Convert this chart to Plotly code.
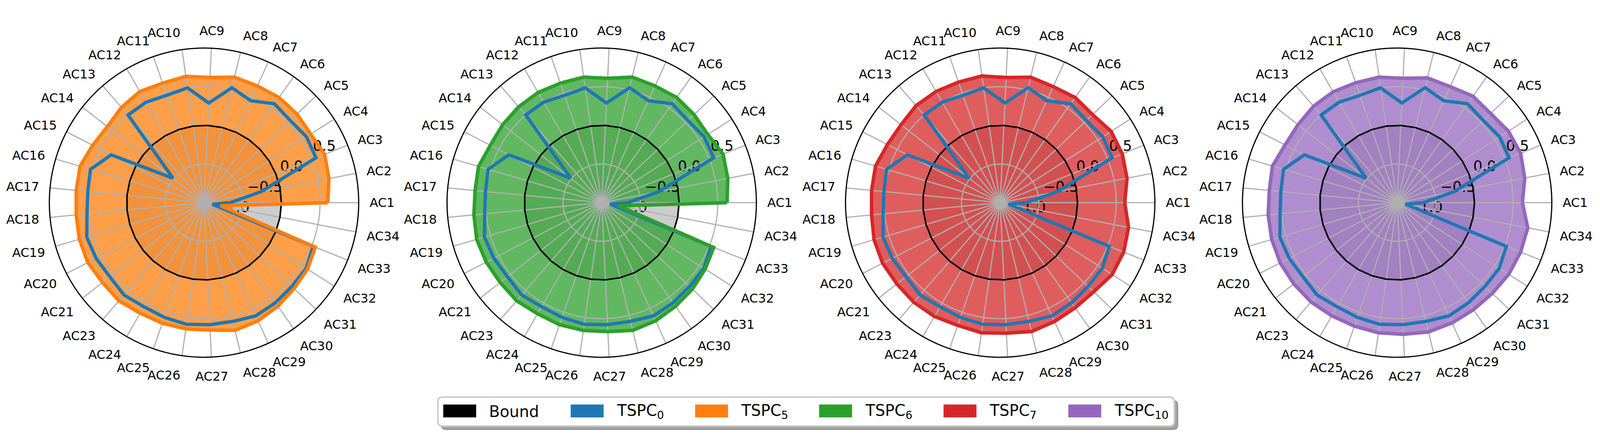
import plotly.graph_objects as go

# ---------------- data ----------------
categories = ['AC1', 'AC2', 'AC3', 'AC4', 'AC5', 'AC6', 'AC7', 'AC8', 'AC9', 'AC10',
              'AC11', 'AC12', 'AC13', 'AC14', 'AC15', 'AC16', 'AC17', 'AC18', 'AC19',
              'AC20', 'AC21', 'AC23', 'AC24', 'AC25', 'AC26', 'AC27', 'AC28', 'AC29',
              'AC30', 'AC31', 'AC32', 'AC33', 'AC34']

bound = [0.0, 0.0, 0.0, 0.0, 0.0, 0.0, 0.0, 0.0, 0.0, 0.0, 0.0, 0.0, 0.0, 0.0, 0.0, 0.0, 0.0,
         0.0, 0.0, 0.0, 0.0, 0.0, 0.0, 0.0, 0.0, 0.0, 0.0, 0.0, 0.0, 0.0, 0.0, 0.0, 0.0]

tspc0 = [-0.66, -0.25, 0.56, 0.575, 0.54, 0.57, 0.45, 0.53, 0.29, 0.50, 0.47, 0.50, 0.50,
         -0.49, 0.35, 0.53, 0.51, 0.52, 0.58, 0.57, 0.55,
         0.58, 0.555, 0.57, 0.59, 0.58, 0.58, 0.61, 0.59, 0.57, 0.57, 0.52, -0.89]

tspc5 = [0.60, 0.645, 0.68, 0.64, 0.66, 0.67, 0.66, 0.67, 0.62, 0.65, 0.635, 0.66, 0.63,
         0.59, 0.62, 0.67, 0.66, 0.66, 0.68, 0.69, 0.67,
         0.68, 0.65, 0.65, 0.65, 0.65, 0.70, 0.68, 0.645, 0.61, 0.59, 0.55, -0.78]

tspc6 = [0.62, 0.66, 0.69, 0.63, 0.65, 0.67, 0.66, 0.67, 0.61, 0.64, 0.635, 0.645, 0.64,
         0.63, 0.62, 0.66, 0.645, 0.66, 0.685, 0.68, 0.67,
         0.68, 0.66, 0.67, 0.67, 0.67, 0.70, 0.68, 0.645, 0.62, 0.59, 0.56, -0.78]

tspc7 = [0.61, 0.67, 0.70, 0.705, 0.65, 0.67, 0.65, 0.67, 0.62, 0.655, 0.65, 0.66, 0.66,
         0.63, 0.64, 0.68, 0.67, 0.67, 0.70, 0.71, 0.70,
         0.705, 0.70, 0.68, 0.70, 0.69, 0.715, 0.69, 0.67, 0.67, 0.72, 0.72, 0.69]

tspc10 = [0.62, 0.68, 0.72, 0.71, 0.67, 0.69, 0.65, 0.66, 0.61, 0.64, 0.64, 0.655, 0.65,
          0.63, 0.63, 0.68, 0.66, 0.675, 0.69, 0.70, 0.70,
          0.70, 0.69, 0.69, 0.70, 0.705, 0.72, 0.71, 0.70, 0.70, 0.715, 0.72, 0.72]

radial_tickvals = [-1.0, -0.5, 0.0, 0.5]
radial_ticktext = ['\u22121.0', '\u22120.5', '0.0', '0.5']

legend_labels = ['Bound', 'TSPC<sub>0</sub>', 'TSPC<sub>5</sub>', 'TSPC<sub>6</sub>',
                 'TSPC<sub>7</sub>', 'TSPC<sub>10</sub>']

# ---------------- geometry / style ----------------
# the page is shown in a viewport ~4096 css px wide with the default 8px body margin
VIEW_W, VIEW_H = 4096, 1132
REF_W = 4180
KX = VIEW_W / REF_W
MARG = 8
W, H = VIEW_W - 2 * MARG, VIEW_H - 2 * MARG

FONT = 'DejaVu Sans'
BLUE = '#1f77b4'
GRID = '#b0b0b0'
legend_colors = ['#000000', BLUE, '#ff7f0e', '#2ca02c', '#d62728', '#9467bd']
panels = [
    (tspc5, '#ff7f0e', 'rgba(255,127,14,0.75)', 'TSPC5'),
    (tspc6, '#2ca02c', 'rgba(44,160,44,0.75)', 'TSPC6'),
    (tspc7, '#d62728', 'rgba(214,39,40,0.75)', 'TSPC7'),
    (tspc10, '#9467bd', 'rgba(148,103,189,0.75)', 'TSPC10'),
]
centers_ref = [533, 1572, 2613, 3650]
cy_ref = 519
R_scr = 396
LABEL_SHIFT = 0.10   # radial offset of the radial tick labels (matplotlib left/bottom alignment)
LABEL_ANGLE = 32


def X(rx):
    return (rx * KX - MARG) / W


def Y(ry):
    return 1 - (ry - MARG) / H


def closed(v):
    return list(v) + [v[0]]


theta = closed(categories)
fig = go.Figure()
polars = {}
ang_common = dict(type='category', categoryarray=categories, rotation=0,
                  direction='counterclockwise')

for i, (vals, col, fcol, name) in enumerate(panels):
    a = 'polar' if i == 0 else 'polar%d' % (3 * i + 1)   # fills
    c = 'polar%d' % (3 * i + 2)                          # radial tick labels
    b = 'polar%d' % (3 * i + 3)                          # grid + lines
    fig.add_trace(go.Scatterpolar(r=closed(bound), theta=theta, mode='none', fill='toself',
                                  fillcolor='rgba(128,128,128,0.4)', subplot=a,
                                  showlegend=False, hoverinfo='skip'))
    fig.add_trace(go.Scatterpolar(r=closed(vals), theta=theta, mode='none', fill='toself',
                                  fillcolor=fcol, subplot=a, showlegend=False,
                                  hoverinfo='skip'))
    # an empty trace so the label subplot is populated
    fig.add_trace(go.Scatterpolar(r=[None], theta=[categories[0]], mode='lines', subplot=c,
                                  showlegend=False, hoverinfo='skip'))
    fig.add_trace(go.Scatterpolar(r=closed(bound), theta=theta, mode='lines',
                                  line=dict(color='#000000', width=4), subplot=b,
                                  showlegend=False, name='Bound'))
    fig.add_trace(go.Scatterpolar(r=closed(tspc0), theta=theta, mode='lines',
                                  line=dict(color=BLUE, width=8.5), subplot=b,
                                  showlegend=False, name='TSPC0'))
    fig.add_trace(go.Scatterpolar(r=closed(vals), theta=theta, mode='lines',
                                  line=dict(color=col, width=9), subplot=b,
                                  showlegend=False, name=name))

    cxs = centers_ref[i] * KX - MARG
    cys = cy_ref - MARG
    dom = dict(x=[(cxs - R_scr) / W, (cxs + R_scr) / W],
               y=[1 - (cys + R_scr) / H, 1 - (cys - R_scr) / H])
    polars[a] = dict(domain=dom, bgcolor='rgba(0,0,0,0)',
                     angularaxis=dict(visible=False, **ang_common),
                     radialaxis=dict(range=[-1, 1], visible=False))
    polars[c] = dict(domain=dom, bgcolor='rgba(0,0,0,0)',
                     angularaxis=dict(visible=True, showline=False, showgrid=False,
                                      showticklabels=False, ticks='', **ang_common),
                     radialaxis=dict(visible=True, range=[-1 - LABEL_SHIFT, 1 - LABEL_SHIFT],
                                     tickmode='array', tickvals=radial_tickvals,
                                     ticktext=radial_ticktext, showticklabels=True,
                                     angle=LABEL_ANGLE, tickangle=LABEL_ANGLE,
                                     side='clockwise', showline=False, showgrid=False,
                                     ticks='',
                                     tickfont=dict(family=FONT, size=37, color='black')))
    polars[b] = dict(
        domain=dom, bgcolor='rgba(0,0,0,0)',
        angularaxis=dict(showline=True, linecolor='black', linewidth=3, showgrid=True,
                         gridcolor=GRID, gridwidth=2.7, ticks='outside', ticklen=20,
                         tickcolor='rgba(0,0,0,0)',
                         tickfont=dict(family=FONT, size=32, color='black'),
                         layer='below traces', **ang_common),
        radialaxis=dict(range=[-1, 1], tickvals=radial_tickvals, showticklabels=False,
                        angle=LABEL_ANGLE, showline=False, ticks='', showgrid=True,
                        gridcolor=GRID, gridwidth=2.7, layer='below traces'))


# ---------------- legend (drawn as shapes + text) ----------------
def rrect(x0, y0, x1, y1, r):
    rx = r / KX
    return ('M {a},{b} L {c},{b} Q {d},{b} {d},{e} L {d},{f} Q {d},{g} {c},{g} '
            'L {a},{g} Q {h},{g} {h},{f} L {h},{e} Q {h},{b} {a},{b} Z').format(
        a=X(x0 + rx), b=Y(y0), c=X(x1 - rx), d=X(x1), e=Y(y0 + r), f=Y(y1 - r),
        g=Y(y1), h=X(x0))


shapes = []
bx0, by0, bx1, by1 = 1144, 1017, 3068, 1091
shapes.append(dict(type='path', xref='paper', yref='paper',
                   path=rrect(bx0 + 9, by0 + 9, bx1 + 9, by1 + 9, 12),
                   fillcolor='#a3a3a3', line=dict(color='#8c8c8c', width=2), layer='above'))
shapes.append(dict(type='path', xref='paper', yref='paper',
                   path=rrect(bx0, by0, bx1, by1, 12),
                   fillcolor='white', line=dict(color='#cccccc', width=4), layer='above'))

patch_x = [1158, 1491, 1816, 2140, 2465, 2791]
patch_w, patch_y0, patch_y1 = 86, 1036, 1069
annotations = []
for px, colr, lab in zip(patch_x, legend_colors, legend_labels):
    shapes.append(dict(type='rect', xref='paper', yref='paper', x0=X(px),
                       x1=X(px + patch_w), y0=Y(patch_y1), y1=Y(patch_y0), fillcolor=colr,
                       line=dict(width=0), layer='above'))
    annotations.append(dict(x=X(px + patch_w + 32), y=Y(1054), xref='paper', yref='paper',
                            xanchor='left', yanchor='middle', text=lab, showarrow=False,
                            font=dict(family=FONT, size=40, color='black')))

fig.update_layout(width=W, height=H, margin=dict(l=0, r=0, t=0, b=0),
                  paper_bgcolor='white', plot_bgcolor='white', showlegend=False,
                  font=dict(family=FONT, color='black'),
                  shapes=shapes, annotations=annotations, **polars)

fig.write_html('out.html')
